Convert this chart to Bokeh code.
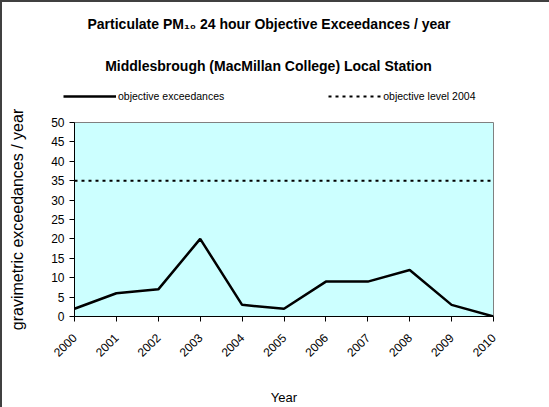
from bokeh.plotting import figure
from bokeh.models import Range1d, Label, Legend, LegendItem, FixedTicker
from bokeh.layouts import column
from bokeh.embed import file_html
from bokeh.resources import INLINE
import math

years = [2000, 2001, 2002, 2003, 2004, 2005, 2006, 2007, 2008, 2009, 2010]
exceedances = [2, 6, 7, 20, 3, 2, 9, 9, 12, 3, 0]
objective_level = [35] * len(years)
y_ticks = [0, 5, 10, 15, 20, 25, 30, 35, 40, 45, 50]

title1 = "Particulate PM\u2081\u2080 24 hour Objective Exceedances / year"
title2 = "Middlesbrough (MacMillan College) Local Station"
series_names = ["objective exceedances", "objective level 2004"]
FONT = "Liberation Sans"

W = 547
HH = 106          # header height
MH = 407 - 2 - HH  # main figure height

# ---------- header: titles and legend ----------
h = figure(width=W, height=HH, output_backend="svg", toolbar_location=None,
           x_range=Range1d(0, W), y_range=Range1d(0, HH),
           x_axis_location=None, y_axis_location=None,
           min_border=0, min_border_left=0, min_border_right=0,
           min_border_top=0, min_border_bottom=0)
if "frame_align" in h.properties():
    h.frame_align = False
h.outline_line_color = None
h.background_fill_color = "white"
h.border_fill_color = "white"
h.xgrid.visible = False
h.ygrid.visible = False

def lab(text, px, py, size, bold=False):
    h.add_layout(Label(x=px - 2, y=HH + 2 - py, x_units="screen", y_units="screen",
                       text=text, text_font=FONT, text_font_size=size,
                       text_font_style="bold" if bold else "normal",
                       text_align="center", text_baseline="middle", text_color="black"))

lab(title1, 268.5, 23, "14px", bold=True)
lab(title2, 268, 65, "14px", bold=True)

# the series drawn again here only to give the legend its line samples
# (they fall outside this header's ranges, so only the legend shows them)
d1 = h.line(years, exceedances, line_color="black", line_width=2.5)
d2 = h.line(years, objective_level, line_color="black", line_width=2, line_dash="3 4")
legend = Legend(items=[LegendItem(label=series_names[0], renderers=[d1]),
                       LegendItem(label=series_names[1], renderers=[d2])],
                orientation="horizontal", location=(61, HH + 2 - 103),
                label_text_font=FONT, label_text_font_size="10.5px",
                label_text_color="black",
                glyph_width=53, glyph_height=14, label_height=14,
                label_standoff=2, spacing=104, padding=0,
                background_fill_alpha=0, border_line_alpha=0, margin=0)
h.add_layout(legend, "center")

# ---------- main chart ----------
FL, FR = 72, 491
FT, FB = 122 - 2 - HH, 316 - 2 - HH

p = figure(width=W, height=MH, output_backend="svg", toolbar_location=None,
           x_range=Range1d(2000, 2010), y_range=Range1d(0, 50),
           min_border_left=FL, min_border_right=W - FR, min_border_top=FT,
           min_border_bottom=MH - FB)
if "frame_align" in p.properties():
    p.frame_align = False
p.background_fill_color = "#CCFFFF"
p.border_fill_color = "white"
p.outline_line_color = "#808080"
p.xgrid.visible = False
p.ygrid.visible = False

p.line(years, exceedances, line_color="black", line_width=2.5)
p.line(years, objective_level, line_color="black", line_width=2, line_dash="3 4")

p.xaxis.ticker = FixedTicker(ticks=years)
p.yaxis.ticker = FixedTicker(ticks=y_ticks)
for ax in (p.xaxis[0], p.yaxis[0]):
    ax.major_label_text_font = FONT
    ax.major_label_text_font_size = "12px"
    ax.major_label_text_color = "black"
    ax.axis_line_color = "black"
    ax.major_tick_line_color = "black"
    ax.major_tick_out = 5
    ax.major_tick_in = 0
    ax.minor_tick_line_color = None
    ax.axis_label_text_font = FONT
    ax.axis_label_text_font_style = "normal"
    ax.axis_label_text_color = "black"
p.xaxis.major_label_orientation = math.pi / 4
p.xaxis.major_label_standoff = 14
p.xaxis.axis_label = "Year"
p.xaxis.axis_label_text_font_size = "13px"
p.xaxis.axis_label_standoff = 26
p.yaxis.axis_label = "gravimetric exceedances / year"
p.yaxis.axis_label_text_font_size = "16px"
p.yaxis.axis_label_standoff = 22

layout = column(h, p, spacing=0)
layout.styles = {"border-left": "2px solid #404040", "border-top": "2px solid #404040"}

open("out.html", "w").write(file_html(layout, INLINE))
